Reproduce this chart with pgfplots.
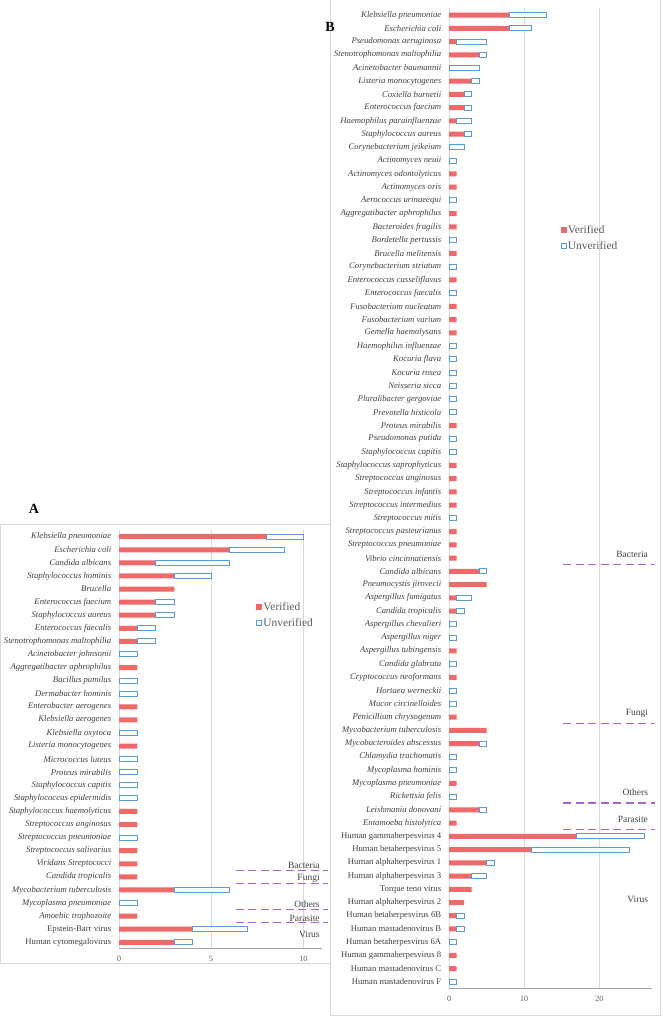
\documentclass[border=0pt]{standalone}
\usepackage{fontspec}
\setmainfont{Liberation Serif}
\usepackage{pgfplots}
\usepackage{pgfplotstable}
\pgfplotsset{compat=1.18}

\definecolor{vred}{HTML}{EE6A6A}
\definecolor{vblue}{HTML}{5B9BD5}
\definecolor{gridgray}{HTML}{D9D9D9}
\definecolor{axisgray}{HTML}{A6A6A6}
\definecolor{txtgray}{HTML}{404040}
\definecolor{ticgray}{HTML}{595959}
\definecolor{sepviolet}{HTML}{A064D8}

% panel A: y = 33 - row (row 1 = top)
\pgfplotstableread{
y  ver unv
32 8 2
31 6 3
30 2 4
29 3 2
28 3 0
27 2 1
26 2 1
25 1 1
24 1 1
23 0 1
22 1 0
21 0 1
20 0 1
19 1 0
18 1 0
17 0 1
16 1 0
15 0 1
14 0 1
13 0 1
12 0 1
11 1 0
10 1 0
9  0 1
8  1 0
7  1 0
6  1 0
5  3 3
4  0 1
3  1 0
2  4 3
1  3 1
}\dataA
% rows of A with unverified cases
\pgfplotstableread{
y  ver unv
32 8 2
31 6 3
30 2 4
29 3 2
27 2 1
26 2 1
25 1 1
24 1 1
23 0 1
21 0 1
20 0 1
17 0 1
15 0 1
14 0 1
13 0 1
12 0 1
9  0 1
5  3 3
4  0 1
2  4 3
1  3 1
}\dataAu

% panel B: y = 75 - row
\pgfplotstableread{
y  ver unv
74 8 5
73 8 3
72 1 4
71 4 1
70 0 4
69 3 1
68 2 1
67 2 1
66 1 2
65 2 1
64 0 2
63 0 1
62 1 0
61 1 0
60 0 1
59 1 0
58 1 0
57 0 1
56 1 0
55 0 1
54 1 0
53 0 1
52 1 0
51 1 0
50 1 0
49 0 1
48 0 1
47 0 1
46 0 1
45 0 1
44 0 1
43 1 0
42 0 1
41 0 1
40 1 0
39 1 0
38 1 0
37 1 0
36 0 1
35 1 0
34 1 0
33 1 0
32 4 1
31 5 0
30 1 2
29 1 1
28 0 1
27 0 1
26 1 0
25 0 1
24 1 0
23 0 1
22 0 1
21 1 0
20 5 0
19 4 1
18 0 1
17 0 1
16 1 0
15 0 1
14 4 1
13 1 0
12 17 9
11 11 13
10 5 1
9  3 2
8  3 0
7  2 0
6  1 1
5  1 1
4  0 1
3  1 0
2  1 0
1  0 1
}\dataB
\pgfplotstableread{
y  ver unv
74 8 5
73 8 3
72 1 4
71 4 1
70 0 4
69 3 1
68 2 1
67 2 1
66 1 2
65 2 1
64 0 2
63 0 1
60 0 1
57 0 1
55 0 1
53 0 1
49 0 1
48 0 1
47 0 1
46 0 1
45 0 1
44 0 1
42 0 1
41 0 1
36 0 1
32 4 1
30 1 2
29 1 1
28 0 1
27 0 1
25 0 1
23 0 1
22 0 1
19 4 1
18 0 1
17 0 1
15 0 1
14 4 1
12 17 9
11 11 13
10 5 1
9  3 2
6  1 1
5  1 1
4  0 1
1  0 1
}\dataBu

\tikzset{
  sepline/.style={draw=sepviolet, line width=1.5pt, dash pattern=on 8pt off 4.5pt},
  grplabel/.style={anchor=base east, inner sep=0pt, font=\fontsize{9.5}{10}\selectfont, text=txtgray},
}
\pgfplotsset{
  panel/.style={
    scale only axis, anchor=south west, clip=false,
    xbar, bar width=5pt, bar shift=0pt,
    xmin=0, ymin=0.5,
    tick style={draw=none},
    axis x line*=bottom, axis y line*=left,
    y axis line style={draw=none},
    x axis line style={draw=axisgray, line width=1.2pt, -},
    xmajorgrids, major grid style={draw=gridgray, line width=0.9pt},
    yticklabel style={font=\fontsize{8.7}{9}\selectfont\itshape, text=txtgray},
    xticklabel style={font=\fontsize{8}{9}\selectfont, text=ticgray, yshift=-4pt},
    /pgf/number format/assume math mode=true,
    legend style={draw=none, fill=none, anchor=west, inner sep=0pt,
      font=\fontsize{11.4}{12}\selectfont, text=ticgray, row sep=5pt,
      nodes={inner sep=1pt, text height=8pt, text depth=1pt}},
    legend cell align=left,
  },
  cover/.style={
    scale only axis, anchor=south west, hide axis,
    xbar stacked, bar width=5pt,
    xmin=0, ymin=0.5,
  },
  vlegend/.style={legend image code/.code={\fill[vred] (0pt,-3pt) rectangle (6pt,3pt);}},
  ulegend/.style={legend image code/.code={\draw[vblue, line width=1pt, fill=white] (0.5pt,-2.5pt) rectangle (5.5pt,2.5pt);}},
}

\begin{document}
\begin{tikzpicture}
\useasboundingbox (0,0) rectangle (662pt,1016pt);

% panel frames
\draw[gridgray, line width=0.8pt] (0.5pt,53pt) rectangle (330.5pt,492pt);
\draw[gridgray, line width=0.8pt] (330.5pt,1016pt) -- (330.5pt,1pt) -- (660.7pt,1pt) -- (660.7pt,1016pt);

% ---------- A ----------
\begin{axis}[panel, at={(119pt,67.16pt)}, width=202.7pt, height=418.7pt,
  xmax=11, ymax=32.5, xtick={0,5,10}, ytick={1,...,32},
  legend style={at={(axis cs:7.45,26.0)}},
  yticklabels={{\upshape Human cytomegalovirus},{\upshape Epstein-Barr virus},
    Amoebic trophozoite,Mycoplasma pneumoniae,Mycobacterium tuberculosis,
    Candida tropicalis,Viridans Streptococci,Streptococcus salivarius,
    Streptococcus pneumoniae,Streptococcus anginosus,Staphylococcus haemolyticus,
    Staphylococcus epidermidis,Staphylococcus capitis,Proteus mirabilis,
    Micrococcus luteus,Listeria monocytogenes,Klebsiella oxytoca,
    Klebsiella aerogenes,Enterobacter aerogenes,Dermabacter hominis,
    Bacillus pumilus,Aggregatibacter aphrophilus,Acinetobacter johnsonii,
    Stenotrophomonas maltophilia,Enterococcus faecalis,Staphylococcus aureus,
    Enterococcus faecium,Brucella,Staphylococcus hominis,Candida albicans,
    Escherichia coli,Klebsiella pneumoniae}]
  \addplot[fill=vred, draw=none, vlegend] table[x=ver, y=y] {\dataA};
  \addlegendentry{Verified}
  \addlegendimage{ulegend}
  \addlegendentry{Unverified}
  \draw[sepline] (axis cs:6.33,6.5) -- (axis cs:11.32,6.5);
  \draw[sepline] (axis cs:6.33,5.5) -- (axis cs:11.32,5.5);
  \draw[sepline] (axis cs:6.33,3.5) -- (axis cs:11.32,3.5);
  \draw[sepline] (axis cs:6.33,2.5) -- (axis cs:11.32,2.5);
  \node[grplabel] at (axis cs:10.9,6.65) {Bacteria};
  \node[grplabel] at (axis cs:10.9,5.73) {Fungi};
  \node[grplabel] at (axis cs:10.9,3.65) {Others};
  \node[grplabel] at (axis cs:10.9,2.6) {Parasite};
  \node[grplabel] at (axis cs:10.9,1.33) {Virus};
\end{axis}
\begin{axis}[cover, at={(119pt,67.16pt)}, width=202.7pt, height=418.7pt,
  xmax=11, ymax=32.5]
  \addplot[draw=vblue, fill=none, draw opacity=0] table[x=ver, y=y] {\dataAu};
  \addplot[draw=vblue, fill=white, line width=1pt] table[x=unv, y=y] {\dataAu};
\end{axis}

% ---------- B ----------
\begin{axis}[panel, at={(449pt,27.4pt)}, width=202.9pt, height=980.2pt,
  xmax=27, ymax=74.5, xtick={0,10,20}, ytick={1,...,74},
  legend style={at={(axis cs:14.86,57.2)}},
  yticklabels={{\upshape Human mastadenovirus F},{\upshape Human mastadenovirus C},
    {\upshape Human gammaherpesvirus 8},{\upshape Human betaherpesvirus 6A},
    {\upshape Human mastadenovirus B},{\upshape Human betaherpesvirus 6B},
    {\upshape Human alphaherpesvirus 2},{\upshape Torque teno virus},
    {\upshape Human alphaherpesvirus 3},{\upshape Human alphaherpesvirus 1},
    {\upshape Human betaherpesvirus 5},{\upshape Human gammaherpesvirus 4},
    Entamoeba histolytica,Leishmania donovani,Rickettsia felis,
    Mycoplasma pneumoniae,Mycoplasma hominis,Chlamydia trachomatis,
    Mycobacteroides abscessus,Mycobacterium tuberculosis,Penicillium chrysogenum,
    Mucor circinelloides,Hortaea werneckii,Cryptococcus neoformans,
    Candida glabrata,Aspergillus tubingensis,Aspergillus niger,
    Aspergillus chevalieri,Candida tropicalis,Aspergillus fumigatus,
    Pneumocystis jirovecii,Candida albicans,Vibrio cincinnatiensis,
    Streptococcus pneumoniae,Streptococcus pasteurianus,Streptococcus mitis,
    Streptococcus intermedius,Streptococcus infantis,Streptococcus anginosus,
    Staphylococcus saprophyticus,Staphylococcus capitis,Pseudomonas putida,
    Proteus mirabilis,Prevotella histicola,Pluralibacter gergoviae,
    Neisseria sicca,Kocuria rosea,Kocuria flava,Haemophilus influenzae,
    Gemella haemolysans,Fusobacterium varium,Fusobacterium nucleatum,
    Enterococcus faecalis,Enterococcus casseliflavus,Corynebacterium striatum,
    Brucella melitensis,Bordetella pertussis,Bacteroides fragilis,
    Aggregatibacter aphrophilus,Aerococcus urinaeequi,Actinomyces oris,
    Actinomyces odontolyticus,Actinomyces neuii,Corynebacterium jeikeium,
    Staphylococcus aureus,Haemophilus parainfluenzae,Enterococcus faecium,
    Coxiella burnetii,Listeria monocytogenes,Acinetobacter baumannii,
    Stenotrophomonas maltophilia,Pseudomonas aeruginosa,Escherichia coli,
    Klebsiella pneumoniae}]
  \addplot[fill=vred, draw=none, vlegend] table[x=ver, y=y] {\dataB};
  \addlegendentry{Verified}
  \addlegendimage{ulegend}
  \addlegendentry{Unverified}
  \draw[sepline] (axis cs:15.2,32.5) -- (axis cs:27.4,32.5);
  \draw[sepline] (axis cs:15.2,20.5) -- (axis cs:27.4,20.5);
  \draw[sepline] (axis cs:15.2,14.5) -- (axis cs:27.4,14.5);
  \draw[sepline] (axis cs:15.2,12.5) -- (axis cs:27.4,12.5);
  \node[grplabel] at (axis cs:26.5,33.07) {Bacteria};
  \node[grplabel] at (axis cs:26.5,21.09) {Fungi};
  \node[grplabel] at (axis cs:26.5,15.05) {Others};
  \node[grplabel] at (axis cs:26.5,13.04) {Parasite};
  \node[grplabel] at (axis cs:26.5,7.01) {Virus};
\end{axis}
\begin{axis}[cover, at={(449pt,27.4pt)}, width=202.9pt, height=980.2pt,
  xmax=27, ymax=74.5]
  \addplot[draw=vblue, fill=none, draw opacity=0] table[x=ver, y=y] {\dataBu};
  \addplot[draw=vblue, fill=white, line width=1pt] table[x=unv, y=y] {\dataBu};
\end{axis}

\node[font=\bfseries\fontsize{14}{14}\selectfont, inner sep=0pt] at (34pt,507pt) {A};
\node[font=\bfseries\fontsize{14}{14}\selectfont, inner sep=0pt] at (330pt,989pt) {B};
\end{tikzpicture}
\end{document}
